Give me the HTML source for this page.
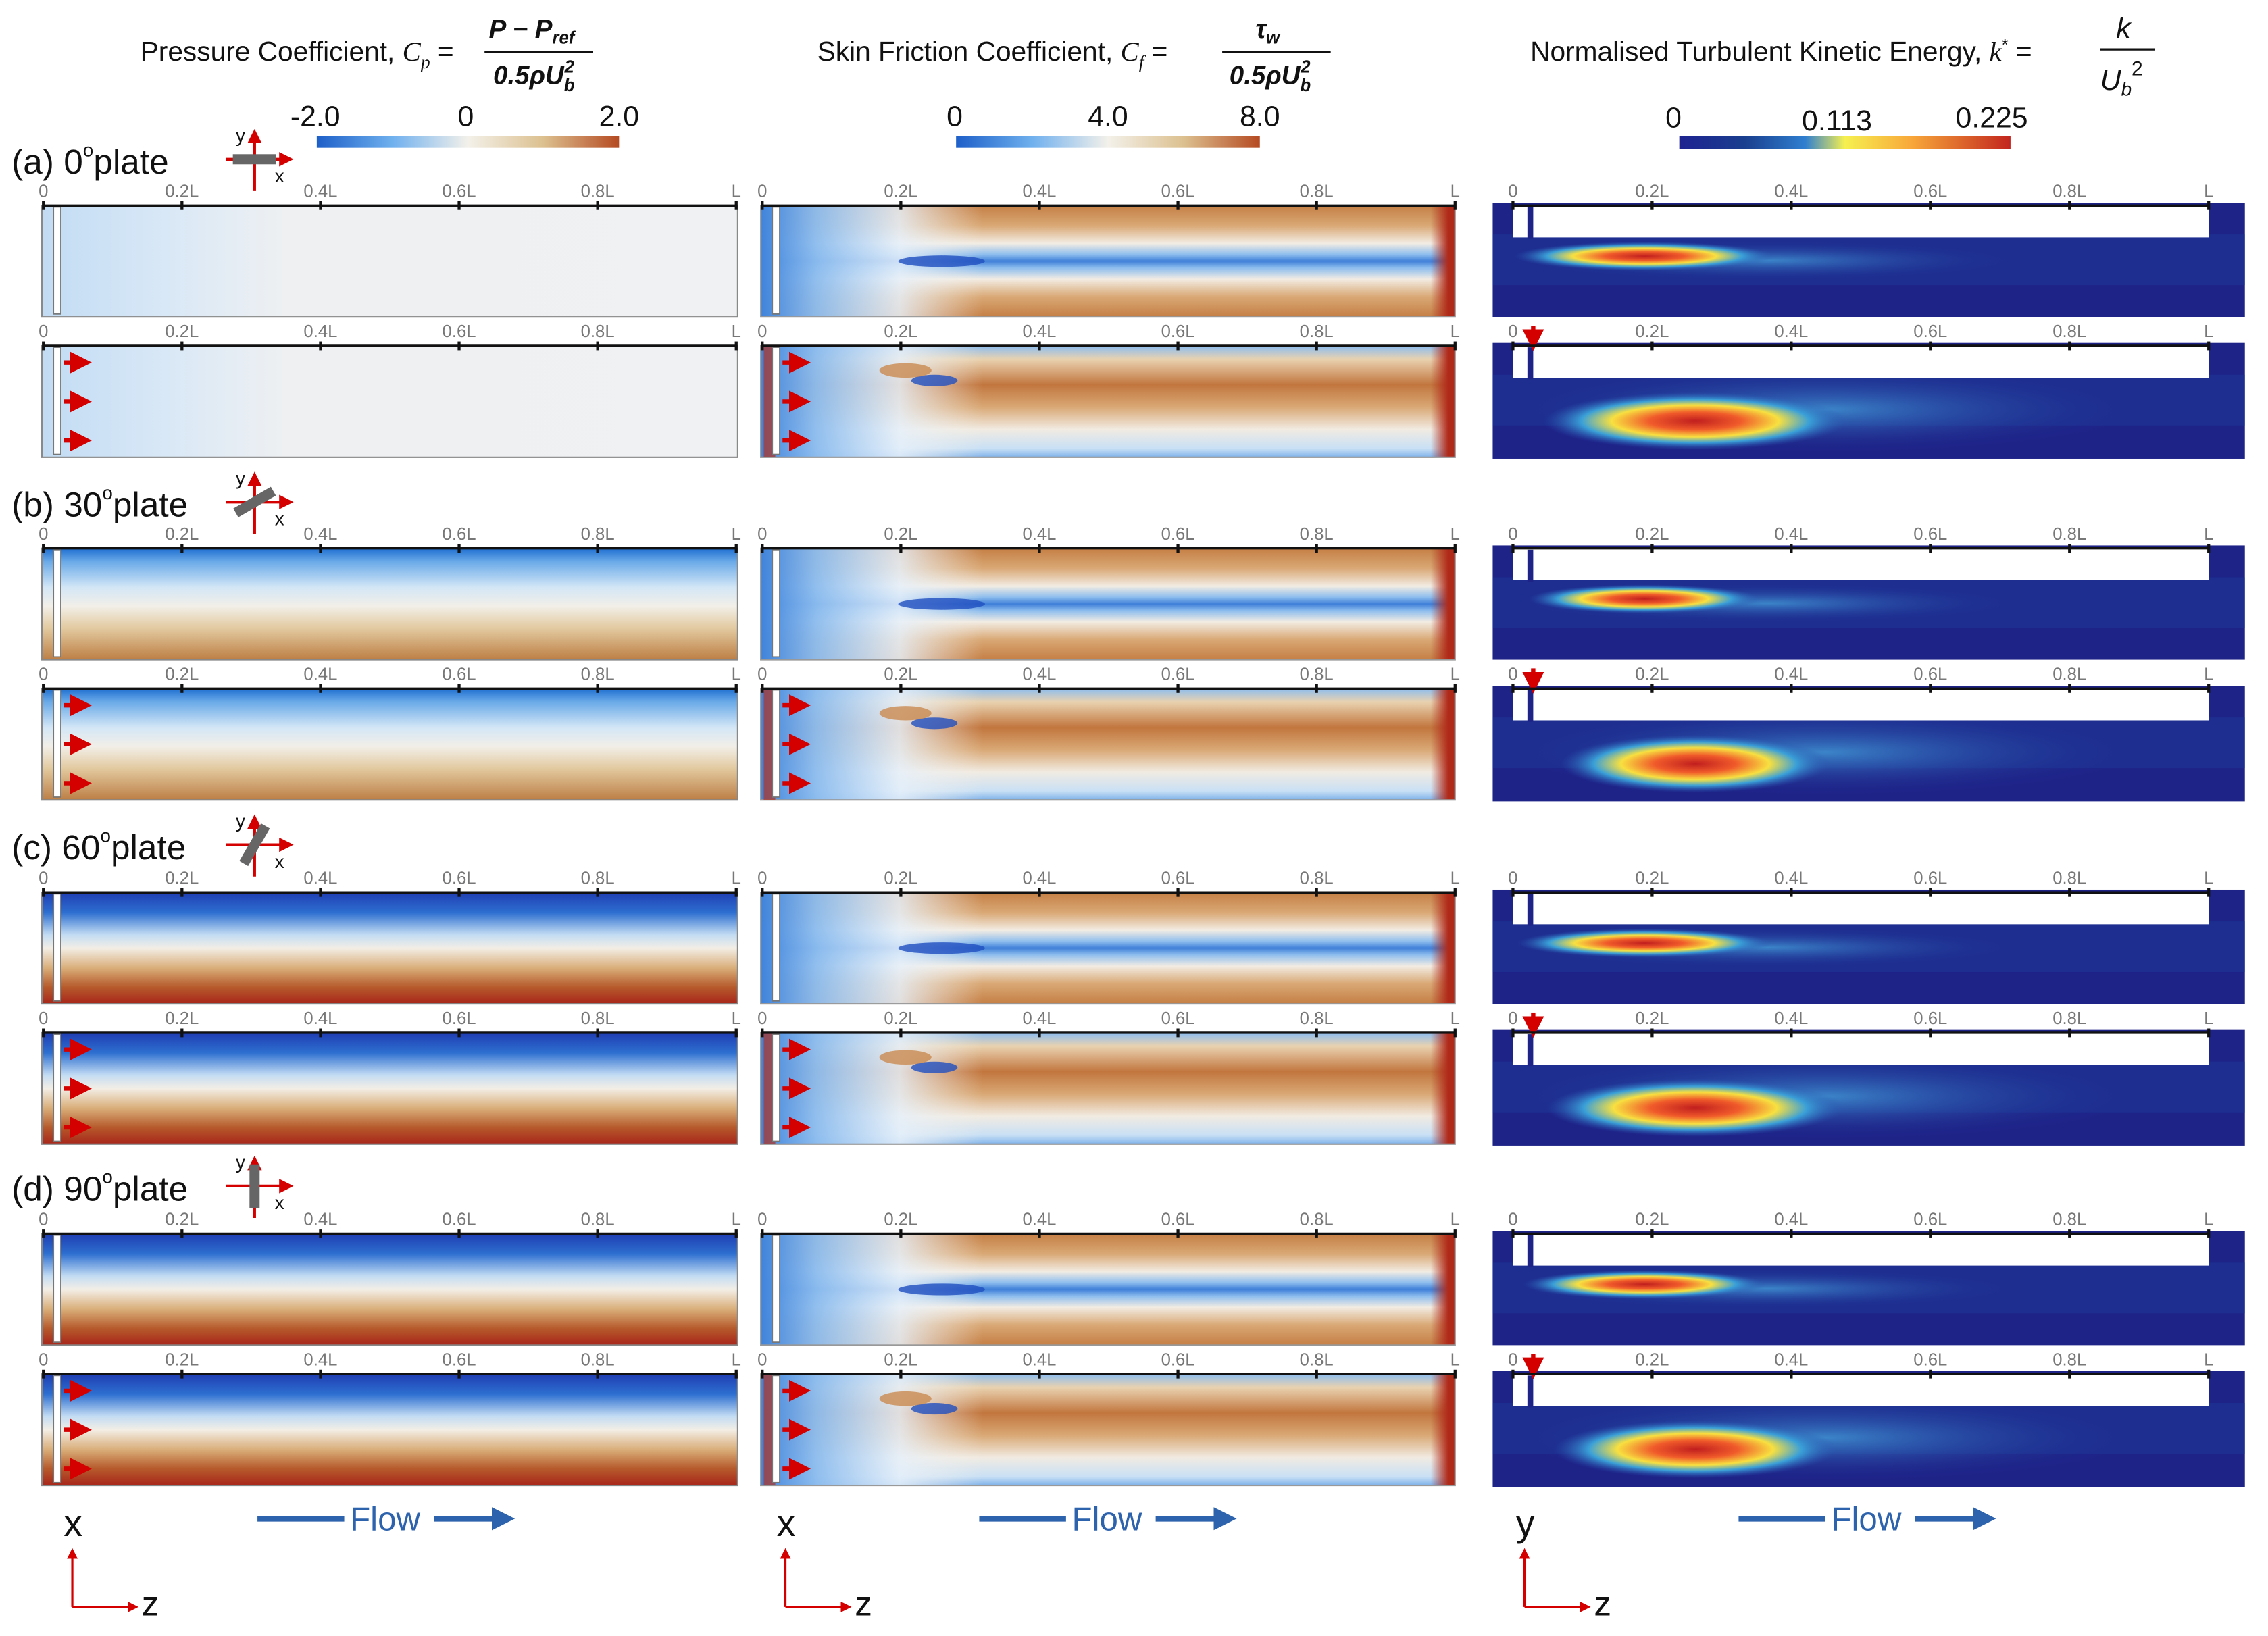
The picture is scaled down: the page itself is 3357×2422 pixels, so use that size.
<!DOCTYPE html>
<html><head><meta charset="utf-8"><style>
html,body{margin:0;padding:0;background:#fff}
svg{display:block}
text{font-family:"Liberation Sans","DejaVu Sans",sans-serif}
</style></head><body>
<svg id="fig" xmlns="http://www.w3.org/2000/svg" width="3357" height="2422" viewBox="0 0 1568 1131">
<defs>
 <linearGradient id="cbCp" x1="0" x2="1"><stop offset="0" stop-color="#1d5fc8"/><stop offset=".25" stop-color="#6fb0ee"/><stop offset=".5" stop-color="#f3f1ea"/><stop offset=".75" stop-color="#dcc08f"/><stop offset="1" stop-color="#b54a22"/></linearGradient>
 <linearGradient id="cbK" x1="0" x2="1"><stop offset="0" stop-color="#1e2390"/><stop offset=".2" stop-color="#1a3f8f"/><stop offset=".38" stop-color="#2f7fd0"/><stop offset=".5" stop-color="#f6f050"/><stop offset=".7" stop-color="#f8a83a"/><stop offset="1" stop-color="#c2261e"/></linearGradient>
 <linearGradient id="cpA" x1="0" x2="1"><stop offset="0" stop-color="#c2dcf4"/><stop offset=".18" stop-color="#d9e8f6"/><stop offset=".35" stop-color="#eef0f2"/><stop offset="1" stop-color="#eff1f2"/></linearGradient>
 <linearGradient id="cpB" x1="0" y1="0" x2="0" y2="1"><stop offset="0" stop-color="#1f6fd1"/><stop offset=".12" stop-color="#6aaae8"/><stop offset=".35" stop-color="#d3e6f6"/><stop offset=".52" stop-color="#f2efe8"/><stop offset=".72" stop-color="#e2c99f"/><stop offset="1" stop-color="#bd7f45"/></linearGradient>
 <linearGradient id="cpC" x1="0" y1="0" x2="0" y2="1"><stop offset="0" stop-color="#1f3db2"/><stop offset=".18" stop-color="#2d6fd0"/><stop offset=".38" stop-color="#c3dcf3"/><stop offset=".5" stop-color="#f3eee6"/><stop offset=".68" stop-color="#d9ad78"/><stop offset=".85" stop-color="#b65a2c"/><stop offset="1" stop-color="#a8261a"/></linearGradient>
 <linearGradient id="cf1" x1="0" y1="0" x2="0" y2="1"><stop offset="0" stop-color="#c57f45"/><stop offset=".18" stop-color="#d9a875"/><stop offset=".34" stop-color="#f2ece3"/><stop offset=".44" stop-color="#8dbdee"/><stop offset=".5" stop-color="#3f7fd8"/><stop offset=".56" stop-color="#8dbdee"/><stop offset=".66" stop-color="#f2ece3"/><stop offset=".82" stop-color="#d9a875"/><stop offset="1" stop-color="#c57f45"/></linearGradient>
 <linearGradient id="cf2" x1="0" y1="0" x2="0" y2="1"><stop offset="0" stop-color="#8dbdee"/><stop offset=".12" stop-color="#e9d2b0"/><stop offset=".35" stop-color="#c2763e"/><stop offset=".55" stop-color="#d9a875"/><stop offset=".75" stop-color="#f1ebe2"/><stop offset=".92" stop-color="#c9e0f5"/><stop offset="1" stop-color="#7fb2ea"/></linearGradient>
 <linearGradient id="cfL" x1="0" x2="1"><stop offset="0" stop-color="#3f83db" stop-opacity="1"/><stop offset=".08" stop-color="#8cbcee" stop-opacity=".95"/><stop offset=".2" stop-color="#e6f0fa" stop-opacity=".85"/><stop offset=".32" stop-color="#f3f1ec" stop-opacity="0"/><stop offset="1" stop-color="#fff" stop-opacity="0"/></linearGradient>
 <linearGradient id="cfR" x1="0" x2="1"><stop offset=".965" stop-color="#b02a1a" stop-opacity="0"/><stop offset=".99" stop-color="#b02a1a" stop-opacity="1"/></linearGradient>
 <radialGradient id="blob"><stop offset="0" stop-color="#c01e1e"/><stop offset=".3" stop-color="#f05a2a"/><stop offset=".55" stop-color="#f8e040"/><stop offset=".75" stop-color="#3aa0d8"/><stop offset="1" stop-color="#2a55b0" stop-opacity="0"/></radialGradient>
 <radialGradient id="halo"><stop offset="0" stop-color="#3f8fd0" stop-opacity=".9"/><stop offset="1" stop-color="#1e2a90" stop-opacity="0"/></radialGradient>
 <marker id="ar" viewBox="0 0 10 10" refX="5" refY="5" markerWidth="5" markerHeight="5" orient="auto"><path d="M0,0L10,5L0,10z" fill="#d40000"/></marker>
 <marker id="ab" viewBox="0 0 10 10" refX="5" refY="5" markerWidth="4" markerHeight="4" orient="auto"><path d="M0,0L10,5L0,10z" fill="#2d62ad"/></marker>
</defs>

<g font-size="19" fill="#111">
 <text x="97" y="42">Pressure Coefficient, <tspan font-style="italic" font-family="Liberation Serif">C<tspan font-size="13" dy="5">p</tspan></tspan><tspan dy="-5"> = </tspan></text>
 <text x="338" y="26" font-family="Liberation Serif" font-style="italic" font-weight="bold" font-size="18">P − P<tspan font-size="12" dy="4">ref</tspan></text>
 <line x1="335" y1="36" x2="410" y2="36" stroke="#111" stroke-width="1.5"/>
 <text x="341" y="58" font-family="Liberation Serif" font-style="italic" font-weight="bold" font-size="18">0.5ρU<tspan font-size="12" dy="5">b</tspan><tspan font-size="12" dx="-7" dy="-13">2</tspan></text>

 <text x="565" y="42">Skin Friction Coefficient, <tspan font-style="italic" font-family="Liberation Serif">C<tspan font-size="13" dy="5">f</tspan></tspan><tspan dy="-5"> = </tspan></text>
 <text x="868" y="26" font-family="Liberation Serif" font-style="italic" font-weight="bold" font-size="18">τ<tspan font-size="12" dy="4">w</tspan></text>
 <line x1="845" y1="36" x2="920" y2="36" stroke="#111" stroke-width="1.5"/>
 <text x="850" y="58" font-family="Liberation Serif" font-style="italic" font-weight="bold" font-size="18">0.5ρU<tspan font-size="12" dy="5">b</tspan><tspan font-size="12" dx="-7" dy="-13">2</tspan></text>

 <text x="1058" y="42">Normalised Turbulent Kinetic Energy, <tspan font-style="italic" font-family="Liberation Serif">k</tspan><tspan font-size="12" dy="-7">*</tspan><tspan dy="7"> = </tspan></text>
 <text x="1463" y="26" font-family="Liberation Serif" font-style="italic" font-size="20">k</text>
 <line x1="1452" y1="34" x2="1490" y2="34" stroke="#111" stroke-width="1.5"/>
 <text x="1452" y="62" font-family="Liberation Serif" font-style="italic" font-size="20">U<tspan font-size="13" dy="4">b</tspan><tspan font-size="14" dy="-14" font-style="normal">2</tspan></text>
</g>

<g font-size="20" fill="#111" text-anchor="middle">
 <rect x="219" y="94" width="209" height="8" fill="url(#cbCp)"/>
 <text x="218" y="87">-2.0</text>
 <text x="322" y="87">0</text>
 <text x="428" y="87">2.0</text>
 <rect x="661" y="94" width="210" height="8" fill="url(#cbCp)"/>
 <text x="660" y="87">0</text>
 <text x="766" y="87">4.0</text>
 <text x="871" y="87">8.0</text>
 <rect x="1161" y="94" width="229" height="9" fill="url(#cbK)"/>
 <text x="1157" y="88">0</text>
 <text x="1270" y="90">0.113</text>
 <text x="1377" y="88">0.225</text>
</g>

<g id="panels"></g>
<g id="labels"></g>
</svg>
<script>
const NS='http://www.w3.org/2000/svg';
const panels=document.getElementById('panels');
const labelsG=document.getElementById('labels');
// data arrays
const tickLabels=['0','0.2L','0.4L','0.6L','0.8L','L'];
const tickFractions=[0,0.2,0.4,0.6,0.8,1];
const caseLabels=['(a) 0','(b) 30','(c) 60','(d) 90'];
const plateAngles=[0,30,60,90];
const cpFill=['cpA','cpB','cpC','cpC'];
const rowTops=[142,239,379,476,617,714,853,950];
const tkePeak=[0.225,0.2,0.22,0.21];

function el(tag,attrs,parent){const e=document.createElementNS(NS,tag);for(const k in attrs)e.setAttribute(k,attrs[k]);(parent||panels).appendChild(e);return e;}

const cols=[{x0:29,x1:510,ax0:30,ax1:509,key:'cp'},{x0:526,x1:1006,ax0:527,ax1:1006,key:'cf'},{x0:1032,x1:1552,ax0:1046,ax1:1527,key:'tke'}];
const H=77;

function axis(g,c,y){
 const sx=f=>c.ax0+f*(c.ax1-c.ax0);
 const l=el('line',{x1:sx(0),x2:sx(1),y1:y,y2:y,stroke:'#111','stroke-width':1.6},g);
 
 
 tickFractions.forEach((f,i)=>{
  const t=el('line',{x1:sx(f),x2:sx(f),y1:y-3,y2:y+3,stroke:'#111','stroke-width':2},g);
  
  
  const tx=el('text',{x:sx(f),y:y-6,'font-size':12,fill:'#777','text-anchor':'middle'},g);
  
  
  tx.textContent=tickLabels[i];
 });
}
function arrows(g,x,y){
 [0.15,0.5,0.85].forEach(f=>{
  const a=el('line',{x1:x,y1:y+f*H,x2:x+12,y2:y+f*H,stroke:'#d40000','stroke-width':3,'marker-end':'url(#ar)'},g);
  
  
 });
}

for(let r=0;r<8;r++){
 const cs=Math.floor(r/2), sec=r%2, y=rowTops[r];
 cols.forEach(c=>{
  const g=el('g',{});
  
  
  const w=c.x1-c.x0;
  if(c.key==='cp'){
   el('rect',{x:c.x0,y:y,width:w,height:H,fill:'url(#'+cpFill[cs]+')',stroke:'#888','stroke-width':1},g);
   el('rect',{x:c.x0+8,y:y+1,width:5,height:H-3,fill:'#fff',stroke:'#777','stroke-width':.8},g);
  } else if(c.key==='cf'){
   el('rect',{x:c.x0,y:y,width:w,height:H,fill:'url(#'+(sec?'cf2':'cf1')+')'},g);
   el('rect',{x:c.x0,y:y,width:w,height:H,fill:'url(#cfL)'},g);
   el('rect',{x:c.x0,y:y,width:w,height:H,fill:'url(#cfR)',stroke:'#999','stroke-width':1},g);
   if(!sec){el('ellipse',{cx:c.x0+125,cy:y+H/2,rx:30,ry:4,fill:'#1f4fc0',opacity:.8},g);}
   else{el('ellipse',{cx:c.x0+120,cy:y+24,rx:16,ry:4,fill:'#1f4fc0',opacity:.8},g);el('ellipse',{cx:c.x0+100,cy:y+17,rx:18,ry:5,fill:'#c98a50',opacity:.8},g);el('rect',{x:c.x0+2,y:y,width:8,height:H,fill:'#b03020',opacity:.7},g);}
   el('rect',{x:c.x0+8,y:y+1,width:5,height:H-3,fill:'#fff',stroke:'#777','stroke-width':.8},g);
  } else {
   const hh=sec?80:79;
   el('rect',{x:c.x0,y:y-2,width:w,height:hh,fill:'#1e2388'},g);
   el('rect',{x:c.x0,y:y+20,width:w,height:35,fill:'#1c3596',opacity:.6},g);
   const s=tkePeak[cs]/0.225;
   if(sec){
    el('ellipse',{cx:c.x0+230,cy:y+44,rx:220,ry:30,fill:'url(#halo)'},g);
    el('ellipse',{cx:c.x0+140,cy:y+52,rx:105*s,ry:20,fill:'url(#blob)'},g);
   } else {
    el('ellipse',{cx:c.x0+190,cy:y+38,rx:180,ry:14,fill:'url(#halo)'},g);
    el('ellipse',{cx:c.x0+105,cy:y+35,rx:90*s,ry:10,fill:'url(#blob)'},g);
   }
   el('rect',{x:c.ax0,y:y,width:c.ax1-c.ax0,height:22,fill:'#fff'},g);
   el('rect',{x:c.ax0+10,y:y+1,width:4,height:22,fill:'#1e2388'},g);
   if(sec){const a=el('line',{x1:c.ax0+14,y1:y-14,x2:c.ax0+14,y2:y-4,stroke:'#d40000','stroke-width':3,'marker-end':'url(#ar)'},g);}
  }
  if(sec && c.key!=='tke') arrows(g,c.x0+15,y);
  axis(g,c,y);
 });
}

[120,357,594,830].forEach((ly,i)=>{
 const t=el('text',{x:8,y:ly,'font-size':24,fill:'#111'},labelsG);
 
 
 t.innerHTML=caseLabels[i]+'<tspan font-size="13" dy="-12">o</tspan><tspan dy="12">plate</tspan>';
 const g=el('g',{transform:'translate(176,'+(ly-10)+')'},labelsG);
 
 
 el('line',{x1:0,y1:22,x2:0,y2:-16,stroke:'#d40000','stroke-width':2,'marker-end':'url(#ar)'},g);
 el('line',{x1:-20,y1:0,x2:22,y2:0,stroke:'#d40000','stroke-width':2,'marker-end':'url(#ar)'},g);
 el('rect',{x:-15,y:-3.5,width:30,height:7,fill:'#666',transform:'rotate('+(-plateAngles[i])+')'},g);
 const yl=el('text',{x:-13,y:-12,'font-size':13,fill:'#111'},g);yl.textContent='y';
 const xl=el('text',{x:14,y:16,'font-size':13,fill:'#111'},g);xl.textContent='x';
});

const bottom=[{x:50,a:'x',fx:178},{x:543,a:'x',fx:677},{x:1054,a:'y',fx:1202}];
bottom.forEach((b,i)=>{
 const g=el('g',{},labelsG);
 
 
 const t=el('text',{x:b.x-6,y:1062,'font-size':26,fill:'#111'},g);t.textContent=b.a;
 el('line',{x1:b.x,y1:1111,x2:b.x,y2:1074,stroke:'#d40000','stroke-width':1.5,'marker-end':'url(#ar)'},g);
 el('line',{x1:b.x,y1:1111,x2:b.x+42,y2:1111,stroke:'#d40000','stroke-width':1.5,'marker-end':'url(#ar)'},g);
 const z=el('text',{x:b.x+48,y:1117,'font-size':24,fill:'#111'},g);z.textContent='z';
 const f=el('g',{},labelsG);
 
 
 el('line',{x1:b.fx,y1:1050,x2:b.fx+60,y2:1050,stroke:'#2d62ad','stroke-width':4},f);
 const ft=el('text',{x:b.fx+64,y:1058,'font-size':23,fill:'#2d62ad'},f);ft.textContent='Flow';
 el('line',{x1:b.fx+122,y1:1050,x2:b.fx+170,y2:1050,stroke:'#2d62ad','stroke-width':4,'marker-end':'url(#ab)'},f);
});
</script>
</body></html>
